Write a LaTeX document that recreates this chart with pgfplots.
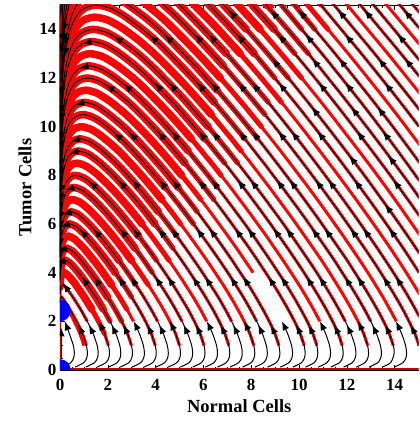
\documentclass[border=0pt]{standalone}
\usepackage{fontspec}
\setmainfont{Liberation Serif}
\usepackage{pgfplots}
\pgfplotsset{compat=1.18}
\usepackage{pgfplotstable}
\usetikzlibrary{arrows.meta}

\pgfplotstableread[row sep=\\]{x y\\ 0.631 0.12\\ 0.994 0.3\\ 1.118 0.5\\ 1.146 0.7\\ 1.107 1\\ 0.935 1.5\\ 0.692 2\\ 0.408 2.5\\ 0.249 2.75\\ 0.148 2.9\\ 0.060 3.0\\ 0.025 2.98\\ 0.008 2.9\\ 0.002 2.75\\}\datA
\pgfplotstableread[row sep=\\]{x y\\ 1.082 0.12\\ 1.445 0.3\\ 1.569 0.5\\ 1.597 0.7\\ 1.558 1\\ 1.385 1.5\\ 1.141 2\\ 0.857 2.5\\ 0.536 3.0\\ 0.357 3.25\\ 0.237 3.4\\ 0.120 3.5\\ 0.082 3.489\\ 0.034 3.416\\ 0.013 3.31\\ 0.003 3.1\\}\datB
\pgfplotstableread[row sep=\\]{x y\\ 1.55 0.12\\ 1.913 0.3\\ 2.037 0.5\\ 2.065 0.7\\ 2.026 1\\ 1.856 1.5\\ 1.610 2\\ 1.327 2.5\\ 1.010 3.0\\ 0.660 3.5\\ 0.461 3.75\\ 0.324 3.9\\ 0.180 4.0\\ 0.122 3.984\\ 0.081 3.943\\ 0.050 3.875\\ 0.031 3.79\\ 0.020 3.717\\ 0.010 3.60\\ 0.004 3.41\\}\datC
\pgfplotstableread[row sep=\\]{x y\\ 2.028 0.12\\ 2.391 0.3\\ 2.515 0.5\\ 2.543 0.7\\ 2.504 1\\ 2.334 1.5\\ 2.093 2\\ 1.807 2.5\\ 1.494 3.0\\ 1.153 3.5\\ 0.775 4.0\\ 0.558 4.25\\ 0.410 4.4\\ 0.239 4.5\\ 0.163 4.478\\ 0.108 4.424\\ 0.067 4.333\\ 0.041 4.22\\ 0.026 4.123\\ 0.014 3.962\\ 0.005 3.71\\}\datD
\pgfplotstableread[row sep=\\]{x y\\ 2.516 0.12\\ 2.879 0.3\\ 3.003 0.5\\ 3.031 0.7\\ 2.992 1\\ 2.822 1.5\\ 2.580 2\\ 2.298 2.5\\ 1.988 3.0\\ 1.654 3.5\\ 1.290 4.0\\ 0.893 4.5\\ 0.656 4.75\\ 0.495 4.9\\ 0.299 5.0\\ 0.203 4.973\\ 0.135 4.905\\ 0.084 4.791\\ 0.051 4.650\\ 0.033 4.529\\ 0.017 4.327\\ 0.006 4.012\\}\datE
\pgfplotstableread[row sep=\\]{x y\\ 3.010 0.12\\ 3.373 0.3\\ 3.497 0.5\\ 3.525 0.7\\ 3.486 1\\ 3.316 1.5\\ 3.076 2\\ 2.794 2.5\\ 2.486 3.0\\ 2.157 3.5\\ 1.803 4.0\\ 1.420 4.5\\ 0.998 5.0\\ 0.749 5.25\\ 0.576 5.4\\ 0.359 5.5\\ 0.244 5.467\\ 0.162 5.386\\ 0.101 5.249\\ 0.061 5.080\\ 0.039 4.935\\ 0.020 4.693\\ 0.007 4.314\\}\datF
\pgfplotstableread[row sep=\\]{x y\\ 3.511 0.12\\ 3.874 0.3\\ 3.998 0.5\\ 4.026 0.7\\ 3.987 1\\ 3.817 1.5\\ 3.576 2\\ 3.300 2.5\\ 2.992 3.0\\ 2.666 3.5\\ 2.316 4.0\\ 1.946 4.5\\ 1.546 5.0\\ 1.108 5.5\\ 0.845 5.75\\ 0.661 5.9\\ 0.419 6.0\\ 0.285 5.962\\ 0.189 5.867\\ 0.117 5.707\\ 0.071 5.511\\ 0.046 5.340\\ 0.024 5.058\\ 0.008 4.617\\}\datG
\pgfplotstableread[row sep=\\]{x y\\ 4.016 0.12\\ 4.379 0.3\\ 4.503 0.5\\ 4.531 0.7\\ 4.492 1\\ 4.322 1.5\\ 4.086 2\\ 3.805 2.5\\ 3.501 3.0\\ 3.175 3.5\\ 2.832 4.0\\ 2.469 4.5\\ 2.083 5.0\\ 1.667 5.5\\ 1.210 6.0\\ 0.936 6.25\\ 0.745 6.4\\ 0.479 6.5\\ 0.326 6.456\\ 0.216 6.348\\ 0.134 6.166\\ 0.081 5.941\\ 0.053 5.746\\ 0.027 5.424\\ 0.010 4.919\\}\datH
\pgfplotstableread[row sep=\\]{x y\\ 4.525 0.12\\ 4.888 0.3\\ 5.012 0.5\\ 5.040 0.7\\ 5.001 1\\ 4.831 1.5\\ 4.595 2\\ 4.319 2.5\\ 4.015 3.0\\ 3.691 3.5\\ 3.349 4.0\\ 2.993 4.5\\ 2.616 5.0\\ 2.216 5.5\\ 1.787 6.0\\ 1.312 6.5\\ 1.027 6.75\\ 0.828 6.9\\ 0.539 7.0\\ 0.367 6.951\\ 0.243 6.829\\ 0.151 6.624\\ 0.092 6.371\\ 0.059 6.152\\ 0.031 5.789\\ 0.011 5.222\\}\datI
\pgfplotstableread[row sep=\\]{x y\\ 5.035 0.12\\ 5.398 0.3\\ 5.522 0.5\\ 5.550 0.7\\ 5.511 1\\ 5.341 1.5\\ 5.105 2\\ 4.829 2.5\\ 4.529 3.0\\ 4.206 3.5\\ 3.862 4.0\\ 3.512 4.5\\ 3.142 5.0\\ 2.755 5.5\\ 2.344 6.0\\ 1.903 6.5\\ 1.411 7.0\\ 1.115 7.25\\ 0.909 7.4\\ 0.598 7.5\\ 0.407 7.445\\ 0.269 7.31\\ 0.167 7.082\\ 0.102 6.801\\ 0.066 6.558\\ 0.034 6.155\\ 0.012 5.524\\}\datJ
\pgfplotstableread[row sep=\\]{x y\\ 5.552 0.12\\ 5.915 0.3\\ 6.039 0.5\\ 6.067 0.7\\ 6.028 1\\ 5.858 1.5\\ 5.622 2\\ 5.351 2.5\\ 5.046 3.0\\ 4.728 3.5\\ 4.389 4.0\\ 4.039 4.5\\ 3.673 5.0\\ 3.294 5.5\\ 2.892 6.0\\ 2.467 6.5\\ 2.018 7.0\\ 1.507 7.5\\ 1.204 7.75\\ 0.971 7.9\\ 0.658 8.0\\ 0.447 7.94\\ 0.296 7.791\\ 0.184 7.54\\ 0.112 7.231\\ 0.072 6.963\\ 0.038 6.520\\ 0.013 5.826\\}\datK
\pgfplotstableread[row sep=\\]{x y\\ 6.069 0.12\\ 6.432 0.3\\ 6.556 0.5\\ 6.584 0.7\\ 6.545 1\\ 6.375 1.5\\ 6.139 2\\ 5.868 2.5\\ 5.569 3.0\\ 5.247 3.5\\ 4.911 4.0\\ 4.563 4.5\\ 4.201 5.0\\ 3.828 5.5\\ 3.435 6.0\\ 3.025 6.5\\ 2.590 7.0\\ 2.125 7.5\\ 1.600 8.0\\ 1.282 8.25\\ 1.044 8.4\\ 0.718 8.5\\ 0.488 8.434\\ 0.323 8.272\\ 0.201 7.998\\ 0.122 7.661\\ 0.079 7.369\\ 0.041 6.886\\ 0.014 6.129\\}\datL
\pgfplotstableread[row sep=\\]{x y\\ 6.589 0.12\\ 6.952 0.3\\ 7.076 0.5\\ 7.104 0.7\\ 7.065 1\\ 6.895 1.5\\ 6.659 2\\ 6.388 2.5\\ 6.087 3.0\\ 5.770 3.5\\ 5.436 4.0\\ 5.090 4.5\\ 4.730 5.0\\ 4.359 5.5\\ 3.975 6.0\\ 3.576 6.5\\ 3.155 7.0\\ 2.713 7.5\\ 2.237 8.0\\ 1.692 8.5\\ 1.366 8.75\\ 1.121 8.9\\ 0.778 9.0\\ 0.529 8.929\\ 0.350 8.753\\ 0.218 8.457\\ 0.132 8.091\\ 0.086 7.775\\ 0.044 7.251\\ 0.016 6.431\\}\datM
\pgfplotstableread[row sep=\\]{x y\\ 7.110 0.12\\ 7.473 0.3\\ 7.597 0.5\\ 7.625 0.7\\ 7.586 1\\ 7.416 1.5\\ 7.180 2\\ 6.909 2.5\\ 6.616 3.0\\ 6.292 3.5\\ 5.962 4.0\\ 5.616 4.5\\ 5.256 5.0\\ 4.891 5.5\\ 4.513 6.0\\ 4.118 6.5\\ 3.711 7.0\\ 3.284 7.5\\ 2.826 8.0\\ 2.348 8.5\\ 1.788 9.0\\ 1.453 9.25\\ 1.196 9.4\\ 0.838 9.5\\ 0.570 9.423\\ 0.377 9.234\\ 0.235 8.915\\ 0.142 8.521\\ 0.092 8.181\\ 0.048 7.617\\ 0.017 6.734\\}\datN
\pgfplotstableread[row sep=\\]{x y\\ 7.634 0.12\\ 7.997 0.3\\ 8.121 0.5\\ 8.149 0.7\\ 8.110 1\\ 7.940 1.5\\ 7.704 2\\ 7.433 2.5\\ 7.140 3.0\\ 6.824 3.5\\ 6.489 4.0\\ 6.147 4.5\\ 5.791 5.0\\ 5.425 5.5\\ 5.048 6.0\\ 4.664 6.5\\ 4.263 7.0\\ 3.845 7.5\\ 3.408 8.0\\ 2.945 8.5\\ 2.463 9.0\\ 1.877 9.5\\ 1.541 9.75\\ 1.271 9.9\\ 0.898 10.0\\ 0.611 9.918\\ 0.404 9.715\\ 0.251 9.373\\ 0.153 8.951\\ 0.099 8.586\\ 0.051 7.982\\ 0.018 7.036\\}\datO
\pgfplotstableread[row sep=\\]{x y\\ 8.159 0.12\\ 8.522 0.3\\ 8.646 0.5\\ 8.674 0.7\\ 8.635 1\\ 8.465 1.5\\ 8.229 2\\ 7.958 2.5\\ 7.665 3.0\\ 7.347 3.5\\ 7.023 4.0\\ 6.678 4.5\\ 6.323 5.0\\ 5.956 5.5\\ 5.586 6.0\\ 5.204 6.5\\ 4.808 7.0\\ 4.404 7.5\\ 3.972 8.0\\ 3.528 8.5\\ 3.059 9.0\\ 2.556 9.5\\ 1.973 10.0\\ 1.618 10.25\\ 1.344 10.4\\ 0.957 10.5\\ 0.651 10.412\\ 0.431 10.196\\ 0.268 9.831\\ 0.163 9.381\\ 0.105 8.992\\ 0.055 8.348\\ 0.019 7.338\\}\datP
\pgfplotstableread[row sep=\\]{x y\\ 8.684 0.12\\ 9.047 0.3\\ 9.171 0.5\\ 9.199 0.7\\ 9.160 1\\ 8.990 1.5\\ 8.754 2\\ 8.483 2.5\\ 8.190 3.0\\ 7.882 3.5\\ 7.543 4.0\\ 7.206 4.5\\ 6.854 5.0\\ 6.492 5.5\\ 6.119 6.0\\ 5.741 6.5\\ 5.354 7.0\\ 4.949 7.5\\ 4.538 8.0\\ 4.100 8.5\\ 3.649 9.0\\ 3.175 9.5\\ 2.658 10.0\\ 2.052 10.5\\ 1.693 10.75\\ 1.424 10.9\\ 1.017 11.0\\ 0.692 10.907\\ 0.458 10.677\\ 0.285 10.289\\ 0.173 9.811\\ 0.112 9.398\\ 0.058 8.713\\ 0.020 7.641\\}\datQ
\pgfplotstableread[row sep=\\]{x y\\ 9.213 0.12\\ 9.576 0.3\\ 9.700 0.5\\ 9.728 0.7\\ 9.689 1\\ 9.519 1.5\\ 9.283 2\\ 9.012 2.5\\ 8.719 3.0\\ 8.411 3.5\\ 8.080 4.0\\ 7.737 4.5\\ 7.389 5.0\\ 7.028 5.5\\ 6.658 6.0\\ 6.283 6.5\\ 5.897 7.0\\ 5.501 7.5\\ 5.089 8.0\\ 4.667 8.5\\ 4.228 9.0\\ 3.767 9.5\\ 3.285 10.0\\ 2.765 10.5\\ 2.148 11.0\\ 1.769 11.25\\ 1.489 11.4\\ 1.077 11.5\\ 0.732 11.402\\ 0.485 11.158\\ 0.302 10.748\\ 0.183 10.241\\ 0.118 9.804\\ 0.061 9.079\\ 0.022 7.943\\}\datR
\pgfplotstableread[row sep=\\]{x y\\ 9.741 0.12\\ 10.104 0.3\\ 10.228 0.5\\ 10.256 0.7\\ 10.217 1\\ 10.047 1.5\\ 9.811 2\\ 9.540 2.5\\ 9.247 3.0\\ 8.939 3.5\\ 8.605 4.0\\ 8.270 4.5\\ 7.922 5.0\\ 7.563 5.5\\ 7.195 6.0\\ 6.819 6.5\\ 6.440 7.0\\ 6.046 7.5\\ 5.641 8.0\\ 5.230 8.5\\ 4.797 9.0\\ 4.354 9.5\\ 3.884 10.0\\ 3.394 10.5\\ 2.869 11.0\\ 2.240 11.5\\ 1.858 11.75\\ 1.569 11.9\\ 1.137 12.0\\ 0.773 11.896\\ 0.512 11.639\\ 0.318 11.206\\ 0.193 10.672\\ 0.125 10.209\\ 0.065 9.444\\ 0.023 8.246\\}\datS
\pgfplotstableread[row sep=\\]{x y\\ 10.271 0.12\\ 10.634 0.3\\ 10.758 0.5\\ 10.786 0.7\\ 10.747 1\\ 10.577 1.5\\ 10.341 2\\ 10.070 2.5\\ 9.777 3.0\\ 9.469 3.5\\ 9.138 4.0\\ 8.801 4.5\\ 8.454 5.0\\ 8.100 5.5\\ 7.735 6.0\\ 7.358 6.5\\ 6.978 7.0\\ 6.589 7.5\\ 6.195 8.0\\ 5.783 8.5\\ 5.366 9.0\\ 4.927 9.5\\ 4.476 10.0\\ 4.000 10.5\\ 3.506 11.0\\ 2.966 11.5\\ 2.323 12.0\\ 1.939 12.25\\ 1.639 12.4\\ 1.197 12.5\\ 0.814 12.391\\ 0.539 12.12\\ 0.335 11.664\\ 0.203 11.102\\ 0.132 10.615\\ 0.068 9.810\\ 0.024 8.548\\}\datT
\pgfplotstableread[row sep=\\]{x y\\ 10.802 0.12\\ 11.165 0.3\\ 11.289 0.5\\ 11.317 0.7\\ 11.278 1\\ 11.108 1.5\\ 10.872 2\\ 10.601 2.5\\ 10.308 3.0\\ 10.0 3.5\\ 9.669 4.0\\ 9.336 4.5\\ 8.987 5.0\\ 8.638 5.5\\ 8.268 6.0\\ 7.899 6.5\\ 7.519 7.0\\ 7.136 7.5\\ 6.740 8.0\\ 6.339 8.5\\ 5.921 9.0\\ 5.498 9.5\\ 5.053 10.0\\ 4.596 10.5\\ 4.110 11.0\\ 3.611 11.5\\ 3.063 12.0\\ 2.413 12.5\\ 2.019 12.75\\ 1.719 12.9\\ 1.257 13.0\\ 0.855 12.885\\ 0.566 12.601\\ 0.352 12.122\\ 0.214 11.532\\ 0.138 11.021\\ 0.072 10.175\\ 0.025 8.850\\}\datU
\pgfplotstableread[row sep=\\]{x y\\ 11.333 0.12\\ 11.696 0.3\\ 11.820 0.5\\ 11.848 0.7\\ 11.809 1\\ 11.639 1.5\\ 11.403 2\\ 11.132 2.5\\ 10.839 3.0\\ 10.531 3.5\\ 10.210 4.0\\ 9.872 4.5\\ 9.526 5.0\\ 9.170 5.5\\ 8.807 6.0\\ 8.436 6.5\\ 8.059 7.0\\ 7.677 7.5\\ 7.286 8.0\\ 6.889 8.5\\ 6.476 9.0\\ 6.059 9.5\\ 5.622 10.0\\ 5.176 10.5\\ 4.715 11.0\\ 4.224 11.5\\ 3.715 12.0\\ 3.156 12.5\\ 2.503 13.0\\ 2.107 13.25\\ 1.788 13.4\\ 1.317 13.5\\ 0.896 13.380\\ 0.593 13.082\\ 0.369 12.580\\ 0.224 11.962\\ 0.145 11.427\\ 0.075 10.541\\ 0.026 9.153\\}\datV
\pgfplotstableread[row sep=\\]{x y\\ 11.866 0.12\\ 12.229 0.3\\ 12.353 0.5\\ 12.381 0.7\\ 12.342 1\\ 12.172 1.5\\ 11.936 2\\ 11.665 2.5\\ 11.372 3.0\\ 11.064 3.5\\ 10.743 4.0\\ 10.405 4.5\\ 10.057 5.0\\ 9.705 5.5\\ 9.348 6.0\\ 8.976 6.5\\ 8.603 7.0\\ 8.219 7.5\\ 7.831 8.0\\ 7.435 8.5\\ 7.035 9.0\\ 6.617 9.5\\ 6.196 10.0\\ 5.753 10.5\\ 5.303 11.0\\ 4.830 11.5\\ 4.338 12.0\\ 3.827 12.5\\ 3.259 13.0\\ 2.591 13.5\\ 2.185 13.75\\ 1.866 13.9\\ 1.376 14.0\\ 0.936 13.874\\ 0.619 13.563\\ 0.385 13.039\\ 0.234 12.392\\ 0.151 11.832\\ 0.078 10.906\\ 0.028 9.455\\}\datW
\pgfplotstableread[row sep=\\]{x y\\ 12.399 0.12\\ 12.762 0.3\\ 12.886 0.5\\ 12.914 0.7\\ 12.875 1\\ 12.705 1.5\\ 12.469 2\\ 12.198 2.5\\ 11.905 3.0\\ 11.597 3.5\\ 11.276 4.0\\ 10.948 4.5\\ 10.597 5.0\\ 10.241 5.5\\ 9.884 6.0\\ 9.518 6.5\\ 9.143 7.0\\ 8.763 7.5\\ 8.376 8.0\\ 7.982 8.5\\ 7.581 9.0\\ 7.176 9.5\\ 6.753 10.0\\ 6.329 10.5\\ 5.880 11.0\\ 5.423 11.5\\ 4.948 12.0\\ 4.452 12.5\\ 3.934 13.0\\ 3.355 13.5\\ 2.678 14.0\\ 2.262 14.25\\ 1.945 14.4\\ 1.436 14.5\\ 0.976 14.369\\ 0.646 14.044\\ 0.402 13.497\\ 0.244 12.822\\ 0.158 12.238\\ 0.082 11.272\\ 0.029 9.758\\}\datX
\pgfplotstableread[row sep=\\]{x y\\ 12.933 0.12\\ 13.296 0.3\\ 13.420 0.5\\ 13.448 0.7\\ 13.409 1\\ 13.239 1.5\\ 13.003 2\\ 12.732 2.5\\ 12.439 3.0\\ 12.131 3.5\\ 11.81 4.0\\ 11.482 4.5\\ 11.136 5.0\\ 10.779 5.5\\ 10.423 6.0\\ 10.059 6.5\\ 9.686 7.0\\ 9.307 7.5\\ 8.918 8.0\\ 8.531 8.5\\ 8.129 9.0\\ 7.731 9.5\\ 7.312 10.0\\ 6.891 10.5\\ 6.457 11.0\\ 6.011 11.5\\ 5.545 12.0\\ 5.060 12.5\\ 4.564 13.0\\ 4.048 13.5\\ 3.448 14.0\\ 2.764 14.5\\ 2.350 14.75\\ 2.012 14.9\\ 1.496 15.0\\ 1.017 14.863\\ 0.673 14.525\\ 0.419 13.955\\ 0.254 13.252\\ 0.165 12.644\\ 0.085 11.637\\ 0.030 10.06\\}\datY
\pgfplotstableread[row sep=\\]{x y\\ 13.469 0.12\\ 13.832 0.3\\ 13.984 0.7\\ 13.945 1\\ 13.775 1.5\\ 13.539 2\\ 13.268 2.5\\ 12.975 3\\ 12.667 3.5\\ 12.341 4\\ 12.018 4.5\\ 11.667 5\\ 11.316 5.5\\ 10.598 6.5\\ 9.849 7.5\\ 9.075 8.5\\ 8.282 9.5\\ 7.450 10.5\\ 6.581 11.5\\ 5.662 12.5\\ 4.669 13.5\\ 4.146 14.0\\ 3.548 14.5\\ 2.851 15.0\\ 2.439 15.25\\ 2.09 15.4\\ 1.556 15.5\\ 1.058 15.358\\ 0.700 15.006\\ 0.436 14.413\\ 0.265 13.681\\ 0.171 13.050\\ 0.089 12.002\\ 0.031 10.36\\}\datZ
\pgfplotstableread[row sep=\\]{x y\\ 14.003 0.12\\ 14.366 0.3\\ 14.518 0.7\\ 14.479 1\\ 14.309 1.5\\ 14.073 2\\ 13.509 3\\ 12.88 4\\ 12.206 5\\ 11.498 6\\ 10.770 7\\ 10.009 8\\ 9.230 9\\ 8.424 10\\ 7.592 11\\ 6.710 12\\ 5.773 13\\ 4.776 14\\ 4.239 14.5\\ 3.627 15\\ 2.946 15.5\\ 1.616 16\\ 1.099 15.852\\ 0.727 15.487\\ 0.452 14.871\\ 0.275 14.112\\ 0.178 13.456\\ 0.092 12.368\\ 0.032 10.665\\}\datAA
\pgfplotstableread[row sep=\\]{x y\\ 15.016 1\\ 14.846 1.5\\ 14.339 2.5\\ 13.738 3.5\\ 13.089 4.5\\ 12.392 5.5\\ 11.676 6.5\\ 10.934 7.5\\ 10.169 8.5\\ 9.382 9.5\\ 8.571 10.5\\ 7.719 11.5\\ 6.838 12.5\\ 5.898 13.5\\ 4.895 14.5\\ 4.333 15\\ 3.741 15.5\\ 1.676 16.5\\ 1.14 16.35\\ 0.754 15.97\\ 0.469 15.33\\ 0.285 14.582\\ 0.184 13.861\\ 0.096 12.733\\ 0.034 10.97\\}\datAB
\pgfplotstableread[row sep=\\]{x y\\ 15.145 2\\ 14.581 3\\ 13.952 4\\ 13.278 5\\ 12.576 6\\ 11.849 7\\ 11.095 8\\ 10.323 9\\ 9.530 10\\ 8.713 11\\ 7.856 12\\ 6.960 13\\ 6.010 14\\ 5.006 15\\ 4.440 15.5\\ 1.735 17\\ 1.180 16.84\\ 0.781 16.45\\ 0.486 15.79\\ 0.295 15.052\\ 0.191 14.267\\ 0.099 13.099\\ 0.035 11.27\\}\datAC
\pgfplotstableread[row sep=\\]{x y\\ 15.118 3\\ 14.489 4\\ 13.825 5\\ 13.118 6\\ 12.390 7\\ 11.640 8\\ 10.869 9\\ 10.080 10\\ 9.268 11\\ 8.422 12\\ 7.541 13\\ 6.615 14\\ 5.619 15\\ 5.086 15.5\\ 1.795 17.5\\ 0.503 16.25\\ 0.305 15.4\\ 0.197 14.672\\ 0.102 13.465\\ 0.036 11.57\\}\datAD
\pgfplotstableread[row sep=\\]{x y\\ 15.026 4\\ 14.362 5\\ 13.655 6\\ 12.931 7\\ 12.184 8\\ 11.417 9\\ 10.628 10\\ 9.820 11\\ 8.985 12\\ 8.129 13\\ 7.203 14\\ 6.237 15\\ 5.735 15.5\\ 1.855 18\\ 0.315 15.83\\ 0.204 15.078\\ 0.106 13.83\\ 0.037 11.87\\}\datAE
\pgfplotstableread[row sep=\\]{x y\\ 15.24 4.5\\ 14.9 5\\ 14.2 6\\ 13.472 7\\ 12.732 8\\ 11.964 9\\ 11.177 10\\ 10.378 11\\ 9.552 12\\ 8.692 13\\ 7.797 14\\ 6.839 15\\ 6.348 15.5\\ 1.915 18.5\\ 0.209 15.5\\ 0.109 14.196\\ 0.038 12.18\\}\datAF
\pgfplotstableread[row sep=\\]{x y\\ 15.44 5\\ 14.73 6\\ 14.016 7\\ 13.276 8\\ 12.509 9\\ 11.726 10\\ 10.932 11\\ 10.109 12\\ 9.255 13\\ 8.375 14\\ 7.448 15\\ 6.963 15.5\\ 1.975 19\\ 0.217 15.89\\ 0.113 14.56\\ 0.040 12.48\\}\datAG
\pgfplotstableread[row sep=\\]{x y\\ 15.27 6\\ 14.92 6.5\\ 14.556 7\\ 13.818 8\\ 13.057 9\\ 12.276 10\\ 11.483 11\\ 10.667 12\\ 9.823 13\\ 8.958 14\\ 8.038 15\\ 7.563 15.5\\ 2.035 19.5\\ 0.224 16.3\\ 0.116 14.93\\ 0.041 12.79\\}\datAH
\pgfplotstableread[row sep=\\]{x y\\ 15.09 7\\ 14.73 7.5\\ 14.358 8\\ 13.602 9\\ 12.826 10\\ 12.031 11\\ 11.217 12\\ 10.390 13\\ 9.524 14\\ 8.624 15\\ 8.162 15.5\\ 2.094 20\\ 0.119 15.29\\ 0.042 13.1\\}\datAI
\pgfplotstableread[row sep=\\]{x y\\ 15.245 7.5\\ 14.875 8\\ 14.133 9\\ 13.374 10\\ 12.59 11\\ 11.78 12\\ 10.957 13\\ 10.11 14\\ 9.261 15\\ 8.834 15.5\\}\datBA
\pgfplotstableread[row sep=\\]{x y\\ 15.426 8\\ 14.684 9\\ 13.925 10\\ 13.141 11\\ 12.331 12\\ 11.508 13\\ 10.661 14\\ 9.812 15\\ 9.385 15.5\\}\datBB
\pgfplotstableread[row sep=\\]{x y\\ 15.235 9\\ 14.476 10\\ 13.692 11\\ 12.882 12\\ 12.059 13\\ 11.212 14\\ 10.363 15\\ 9.936 15.5\\}\datBC
\pgfplotstableread[row sep=\\]{x y\\ 15.027 10\\ 14.243 11\\ 13.433 12\\ 12.61 13\\ 11.763 14\\ 10.914 15\\ 10.487 15.5\\}\datBD
\pgfplotstableread[row sep=\\]{x y\\ 15.579 10\\ 14.795 11\\ 13.985 12\\ 13.162 13\\ 12.315 14\\ 11.466 15\\ 11.039 15.5\\}\datBE
\pgfplotstableread[row sep=\\]{x y\\ 15.346 11\\ 14.536 12\\ 13.713 13\\ 12.866 14\\ 12.017 15\\ 11.59 15.5\\}\datBF
\pgfplotstableread[row sep=\\]{x y\\ 15.087 12\\ 14.264 13\\ 13.417 14\\ 12.568 15\\ 12.141 15.5\\}\datBG
\pgfplotstableread[row sep=\\]{x y\\ 15.638 12\\ 14.815 13\\ 13.968 14\\ 13.119 15\\ 12.692 15.5\\}\datBH
\pgfplotstableread[row sep=\\]{x y\\ 15.366 13\\ 14.519 14\\ 13.67 15\\ 13.243 15.5\\}\datBI
\pgfplotstableread[row sep=\\]{x y\\ 15.071 14\\ 14.222 15\\ 13.795 15.5\\}\datBJ
\pgfplotstableread[row sep=\\]{x y\\ 15.62 14\\ 14.773 15\\ 14.346 15.5\\}\datBK
\pgfplotstableread[row sep=\\]{x y\\ 15.32 15\\ 14.897 15.5\\}\datBL

% arrowheads along the black streamlines: position and direction
\pgfplotstableread[row sep=\\]{x y u v\\
0.935 1.5 -0.13 0.27\\ 1.385 1.5 -0.13 0.27\\ 0.357 3.25 -0.175 0.244\\
2.334 1.5 -0.13 0.27\\ 1.153 3.5 -0.17 0.25\\ 0.239 4.5 -0.29 -0.08\\
2.822 1.5 -0.13 0.27\\ 1.654 3.5 -0.17 0.25\\ 0.299 5.0 -0.29 -0.08\\
3.817 1.5 -0.13 0.27\\ 2.666 3.5 -0.17 0.25\\ 1.108 5.5 -0.22 0.2\\ 0.419 6.0 -0.29 -0.08\\ 0.024 5.058 -0.02 -0.3\\
4.322 1.5 -0.13 0.27\\ 3.175 3.5 -0.17 0.25\\ 1.667 5.5 -0.2 0.22\\ 0.479 6.5 -0.29 -0.08\\ 0.027 5.424 -0.02 -0.3\\
5.341 1.5 -0.13 0.27\\ 4.206 3.5 -0.17 0.25\\ 2.755 5.5 -0.19 0.23\\ 0.598 7.5 -0.29 -0.08\\ 0.034 6.155 -0.02 -0.3\\
5.858 1.5 -0.13 0.27\\ 4.728 3.5 -0.17 0.25\\ 3.294 5.5 -0.19 0.23\\ 1.507 7.5 -0.23 0.19\\ 0.038 6.52 -0.02 -0.3\\
6.895 1.5 -0.13 0.27\\ 5.770 3.5 -0.17 0.25\\ 4.359 5.5 -0.19 0.23\\ 2.713 7.5 -0.19 0.23\\ 0.778 9.0 -0.29 -0.08\\ 0.044 7.251 -0.02 -0.3\\
7.416 1.5 -0.13 0.27\\ 6.292 3.5 -0.17 0.25\\ 4.891 5.5 -0.19 0.23\\ 3.284 7.5 -0.19 0.23\\ 0.838 9.5 -0.29 -0.08\\ 0.048 7.617 -0.02 -0.3\\
8.465 1.5 -0.13 0.27\\ 7.347 3.5 -0.17 0.25\\ 5.956 5.5 -0.19 0.23\\ 4.404 7.5 -0.19 0.23\\ 2.556 9.5 -0.23 0.19\\ 0.055 8.348 -0.02 -0.3\\
8.990 1.5 -0.13 0.27\\ 7.882 3.5 -0.17 0.25\\ 6.492 5.5 -0.19 0.23\\ 4.949 7.5 -0.19 0.23\\ 3.175 9.5 -0.22 0.2\\ 1.017 11.0 -0.29 -0.08\\ 0.058 8.713 -0.02 -0.3\\
10.047 1.5 -0.13 0.27\\ 8.939 3.5 -0.17 0.25\\ 7.563 5.5 -0.19 0.23\\ 6.046 7.5 -0.19 0.23\\ 4.354 9.5 -0.19 0.23\\ 2.240 11.5 -0.25 0.16\\ 0.065 9.444 -0.02 -0.3\\
10.577 1.5 -0.13 0.27\\ 9.469 3.5 -0.17 0.25\\ 8.100 5.5 -0.19 0.23\\ 6.589 7.5 -0.19 0.23\\ 4.927 9.5 -0.19 0.23\\ 2.966 11.5 -0.23 0.19\\ 1.197 12.5 -0.29 -0.08\\ 0.068 9.81 -0.02 -0.3\\
11.639 1.5 -0.13 0.27\\ 10.531 3.5 -0.17 0.25\\ 9.170 5.5 -0.19 0.23\\ 7.677 7.5 -0.19 0.23\\ 6.059 9.5 -0.19 0.23\\ 4.224 11.5 -0.19 0.23\\ 1.317 13.5 -0.29 -0.08\\ 0.075 10.541 -0.02 -0.3\\
12.172 1.5 -0.13 0.27\\ 11.064 3.5 -0.17 0.25\\ 9.705 5.5 -0.19 0.23\\ 8.219 7.5 -0.19 0.23\\ 6.617 9.5 -0.19 0.23\\ 4.830 11.5 -0.19 0.23\\ 2.591 13.5 -0.255 0.157\\ 0.078 10.906 -0.02 -0.3\\
13.239 1.5 -0.13 0.27\\ 12.131 3.5 -0.17 0.25\\ 10.779 5.5 -0.19 0.23\\ 9.307 7.5 -0.19 0.23\\ 7.731 9.5 -0.19 0.23\\ 6.011 11.5 -0.19 0.23\\ 4.048 13.5 -0.23 0.19\\ 0.254 13.252 -0.04 -0.3\\ 0.085 11.637 -0.02 -0.3\\
13.775 1.5 -0.13 0.27\\ 12.667 3.5 -0.17 0.25\\ 11.316 5.5 -0.19 0.23\\ 9.849 7.5 -0.19 0.23\\ 8.282 9.5 -0.19 0.23\\ 6.581 11.5 -0.19 0.23\\ 4.669 13.5 -0.23 0.19\\ 0.265 13.681 -0.05 -0.3\\
14.846 1.5 -0.13 0.27\\ 13.738 3.5 -0.17 0.25\\ 12.392 5.5 -0.19 0.23\\ 10.934 7.5 -0.19 0.23\\ 9.382 9.5 -0.19 0.23\\ 7.719 11.5 -0.19 0.23\\ 5.898 13.5 -0.2 0.22\\ 0.184 13.861 -0.03 -0.3\\
14.27 3.5 -0.17 0.25\\ 12.93 5.5 -0.19 0.23\\ 11.47 7.5 -0.19 0.23\\ 9.93 9.5 -0.19 0.23\\ 8.29 11.5 -0.19 0.23\\ 6.49 13.5 -0.2 0.22\\ 0.191 14.267 -0.03 -0.3\\
14.01 5.5 -0.19 0.23\\ 12.56 7.5 -0.19 0.23\\ 11.02 9.5 -0.19 0.23\\ 9.40 11.5 -0.19 0.23\\ 7.67 13.5 -0.2 0.22\\ 0.106 13.83 -0.02 -0.3\\
13.84 6.5 -0.19 0.23\\ 12.35 8.5 -0.19 0.23\\ 10.78 10.5 -0.19 0.23\\ 9.12 12.5 -0.19 0.23\\ 7.32 14.5 -0.2 0.22\\
14.19 7.5 -0.19 0.23\\ 12.67 9.5 -0.19 0.23\\ 11.08 11.5 -0.19 0.23\\ 9.39 13.5 -0.2 0.22\\
13.98 8.5 -0.19 0.23\\ 12.43 10.5 -0.19 0.23\\ 10.80 12.5 -0.19 0.23\\ 9.07 14.5 -0.2 0.22\\
13.75 9.5 -0.19 0.23\\ 12.19 11.5 -0.19 0.23\\ 10.53 13.5 -0.2 0.22\\
13.53 10.5 -0.19 0.23\\ 11.92 12.5 -0.19 0.23\\ 10.24 14.5 -0.2 0.22\\
13.84 11.5 -0.19 0.23\\ 12.19 13.5 -0.2 0.22\\
13.57 12.5 -0.19 0.23\\ 11.89 14.5 -0.2 0.22\\
14.68 12.5 -0.19 0.23\\ 12.99 14.5 -0.2 0.22\\
14.39 13.5 -0.2 0.22\\ 14.65 14.5 -0.2 0.22\\
}\arrowdat

\pgfplotsset{
  rt/.style={red, line width=3pt, smooth},
  rm/.style={red, line width=5pt, smooth, line cap=round, restrict expr to domain={\thisrow{x}-0.75*\thisrow{y}}{-100:1.2}},
  rk/.style={red, line width=7.5pt, smooth, line cap=round, restrict expr to domain={\thisrow{x}-0.62*\thisrow{y}}{-100:0.3}},
  bt/.style={black, line width=1pt, smooth},
  bs/.style={black, line width=1pt, smooth, -{Latex[length=9pt,width=7pt]}},
}

\begin{document}
\begin{tikzpicture}
\begin{axis}[name=ax, width=358.5pt, height=365pt, scale only axis,
  xmin=0, xmax=15, ymin=0, ymax=15,
  axis x line*=box, axis y line*=left,
  clip marker paths=true,
  xtick={0,2,...,14}, ytick={0,2,...,14}, minor tick num=3,
  tick align=inside, major tick length=5pt, minor tick length=3pt,
  tick style={black, line width=0.6pt},
  tick label style={font=\fontsize{17}{17}\selectfont\bfseries},
  xticklabel style={yshift=-6pt},
  /pgf/number format/assume math mode=true,
  xlabel={Normal Cells}, ylabel={Tumor Cells},
  label style={font=\fontsize{18.5}{18.5}\selectfont\bfseries},
  xlabel style={at={(axis description cs:0.5,-0.0718)}, anchor=north},
  ylabel style={at={(axis description cs:-0.0697,0.5)}, anchor=south},
  clip=true]
% red trajectories
\addplot[rt, restrict y to domain=0.99:40] table {\datA};
\addplot[rt, restrict y to domain=1.99:40] table {\datB};
\addplot[rt, restrict y to domain=0.99:40] table {\datC};
\addplot[rt, restrict y to domain=1.99:40] table {\datD};
\addplot[rt, restrict y to domain=0.99:40] table {\datE};
\addplot[rt, restrict y to domain=1.99:40] table {\datF};
\addplot[rt, restrict y to domain=0.99:40] table {\datG};
\addplot[rt, restrict y to domain=1.99:40] table {\datH};
\addplot[rt, restrict y to domain=0.99:40] table {\datI};
\addplot[rt, restrict y to domain=1.99:40] table {\datJ};
\addplot[rt, restrict y to domain=0.99:40] table {\datK};
\addplot[rt, restrict y to domain=1.99:40] table {\datL};
\addplot[rt, restrict y to domain=0.99:40] table {\datM};
\addplot[rt, restrict y to domain=1.99:40] table {\datN};
\addplot[rt, restrict y to domain=0.99:40] table {\datO};
\addplot[rt, restrict y to domain=1.99:40] table {\datP};
\addplot[rt, restrict y to domain=0.99:40] table {\datQ};
\addplot[rt, restrict y to domain=3.99:40] table {\datR};
\addplot[rt, restrict y to domain=0.99:40] table {\datS};
\addplot[rt, restrict y to domain=0.99:40] table {\datT};
\addplot[rt, restrict y to domain=1.99:40] table {\datU};
\addplot[rt, restrict y to domain=0.99:40] table {\datV};
\addplot[rt, restrict y to domain=1.99:40] table {\datW};
\addplot[rt, restrict y to domain=0.99:40] table {\datX};
\addplot[rt, restrict y to domain=1.99:40] table {\datY};
\addplot[rt, restrict y to domain=0.99:40] table {\datZ};
\addplot[rt, restrict y to domain=1.99:40] table {\datAA};
\addplot[rt] table {\datAB};
\addplot[rt] table {\datAC};
\addplot[rt] table {\datAD};
\addplot[rt] table {\datAE};
\addplot[rt] table {\datAF};
\addplot[rt] table {\datAG};
\addplot[rt] table {\datAH};
\addplot[rt] table {\datAI};
\addplot[rt] table {\datBA};
\addplot[rt] table {\datBB};
\addplot[rt] table {\datBC};
\addplot[rt] table {\datBD};
\addplot[rt] table {\datBE};
\addplot[rt] table {\datBF};
\addplot[rt] table {\datBG};
\addplot[rt] table {\datBH};
\addplot[rt] table {\datBI};
\addplot[rt] table {\datBJ};
\addplot[rt] table {\datBK};
\addplot[rt] table {\datBL};
\addplot[rt] coordinates {(1.0,1.0) (0.83,1.5) (0.594,2.0) (0.435,2.3) (0.2,2.5)};
% denser bundles of red trajectories
\addplot[rm] table {\datC};
\addplot[rm] table {\datD};
\addplot[rm] table {\datE};
\addplot[rm] table {\datF};
\addplot[rm] table {\datG};
\addplot[rm] table {\datH};
\addplot[rm] table {\datI};
\addplot[rm] table {\datJ};
\addplot[rm] table {\datK};
\addplot[rm] table {\datL};
\addplot[rm] table {\datM};
\addplot[rm] table {\datN};
\addplot[rm] table {\datO};
\addplot[rm] table {\datP};
\addplot[rm] table {\datQ};
\addplot[rm] table {\datR};
\addplot[rm] table {\datS};
\addplot[rm] table {\datT};
\addplot[rm] table {\datU};
\addplot[rm] table {\datV};
\addplot[rm] table {\datW};
\addplot[rm] table {\datX};
\addplot[rm] table {\datY};
\addplot[rm] table {\datZ};
\addplot[rm] table {\datAA};
\addplot[rm] table {\datAB};
\addplot[rm] table {\datAC};
\addplot[rm] table {\datAD};
\addplot[rm] table {\datAE};
\addplot[rm] table {\datAF};
\addplot[rm] table {\datAG};
\addplot[rm] table {\datAH};
\addplot[rm] table {\datAI};
\addplot[rm] table {\datBA};
\addplot[rm] table {\datBB};
\addplot[rm] table {\datBC};
\addplot[rm] table {\datBD};
\addplot[rk] table {\datC};
\addplot[rk] table {\datD};
\addplot[rk] table {\datE};
\addplot[rk] table {\datF};
\addplot[rk] table {\datG};
\addplot[rk] table {\datH};
\addplot[rk] table {\datI};
\addplot[rk] table {\datJ};
\addplot[rk] table {\datK};
\addplot[rk] table {\datL};
\addplot[rk] table {\datM};
\addplot[rk] table {\datN};
\addplot[rk] table {\datO};
\addplot[rk] table {\datP};
\addplot[rk] table {\datQ};
\addplot[rk] table {\datR};
\addplot[rk] table {\datS};
\addplot[rk] table {\datT};
\addplot[rk] table {\datU};
\addplot[rk] table {\datV};
\addplot[rk] table {\datW};
\addplot[rk] table {\datX};
\addplot[rk] table {\datY};
\addplot[rk] table {\datZ};
\addplot[rk] table {\datAA};
\addplot[rk] table {\datAB};
\addplot[rk] table {\datAC};
\addplot[rk] table {\datAD};
\addplot[rk] table {\datAE};
\addplot[rk] table {\datAF};
\addplot[rk] table {\datAG};
\addplot[rk] table {\datAH};
\addplot[rk] table {\datAI};
% trajectories lying on the axes
\addplot[red!80!black, line width=3pt] coordinates {(0,0) (0,15)};
\addplot[red!80!black, line width=3pt] coordinates {(0,0) (15,0)};
% black streamlines
\addplot[bt] table {\datA};
\addplot[bt] table {\datB};
\addplot[bt] table {\datD};
\addplot[bt] table {\datE};
\addplot[bt] table {\datG};
\addplot[bt] table {\datH};
\addplot[bt] table {\datJ};
\addplot[bt] table {\datK};
\addplot[bt] table {\datM};
\addplot[bt] table {\datN};
\addplot[bt] table {\datP};
\addplot[bt] table {\datQ};
\addplot[bt] table {\datS};
\addplot[bt] table {\datT};
\addplot[bt] table {\datV};
\addplot[bt] table {\datW};
\addplot[bt] table {\datY};
\addplot[bt] table {\datZ};
\addplot[bt] table {\datAB};
\addplot[bt] table {\datAC};
\addplot[bt] table {\datAE};
\addplot[bt] table {\datAF};
\addplot[bt] table {\datAH};
\addplot[bt] table {\datAI};
\addplot[bt] table {\datBA};
\addplot[bt] table {\datBB};
\addplot[bt] table {\datBD};
\addplot[bt] table {\datBE};
\addplot[bt] table {\datBG};
\addplot[bt] table {\datBH};
\addplot[bt] table {\datBJ};
\addplot[bt] table {\datBK};
% arrowheads
\addplot[black, line width=0.8pt, -{Latex[length=9pt,width=7pt]},
  quiver={u=\thisrow{u}, v=\thisrow{v}, scale arrows=1.3}] table {\arrowdat};
% short streamlines near the bottom
\addplot[bs] coordinates {(0.085,0.12) (0.45,0.3) (0.57,0.5) (0.6,0.7) (0.56,1.0) (0.39,1.5) (0.2,2.0)};
\addplot[bs] coordinates {(1.555,0.12) (1.918,0.3) (2.042,0.5) (2.07,0.7) (2.031,1.0) (1.861,1.5) (1.625,2.0)};
\addplot[bs] coordinates {(3.015,0.12) (3.378,0.3) (3.502,0.5) (3.53,0.7) (3.491,1.0) (3.321,1.5) (3.085,2.0)};
\addplot[bs] coordinates {(4.525,0.12) (4.888,0.3) (5.012,0.5) (5.04,0.7) (5.001,1.0) (4.831,1.5) (4.595,2.0)};
\addplot[bs] coordinates {(6.075,0.12) (6.438,0.3) (6.562,0.5) (6.59,0.7) (6.551,1.0) (6.381,1.5) (6.145,2.0)};
\addplot[bs] coordinates {(7.635,0.12) (7.998,0.3) (8.122,0.5) (8.15,0.7) (8.111,1.0) (7.941,1.5) (7.705,2.0)};
\addplot[bs] coordinates {(9.215,0.12) (9.578,0.3) (9.702,0.5) (9.73,0.7) (9.691,1.0) (9.521,1.5) (9.285,2.0)};
\addplot[bs] coordinates {(10.805,0.12) (11.168,0.3) (11.292,0.5) (11.32,0.7) (11.281,1.0) (11.111,1.5) (10.875,2.0)};
\addplot[bs] coordinates {(12.395,0.12) (12.758,0.3) (12.882,0.5) (12.91,0.7) (12.871,1.0) (12.701,1.5) (12.465,2.0)};
\addplot[bs] coordinates {(13.985,0.12) (14.348,0.3) (14.472,0.5) (14.5,0.7) (14.461,1.0) (14.291,1.5) (14.055,2.0)};
\addplot[black, line width=1pt, -{Latex[length=9pt,width=7pt]}] coordinates {(0.05,0.5) (0.05,1.75)};
% equilibria
\addplot[only marks, mark=*, mark size=10.5pt, color=blue, mark options={draw=blue, fill=blue}] coordinates {(0,0) (0,2.44)};
\end{axis}
\pgfresetboundingbox
\path[use as bounding box] ([xshift=-60pt,yshift=-54pt]ax.south west) rectangle ([xshift=0.5pt,yshift=5pt]ax.north east);
\end{tikzpicture}
\end{document}
